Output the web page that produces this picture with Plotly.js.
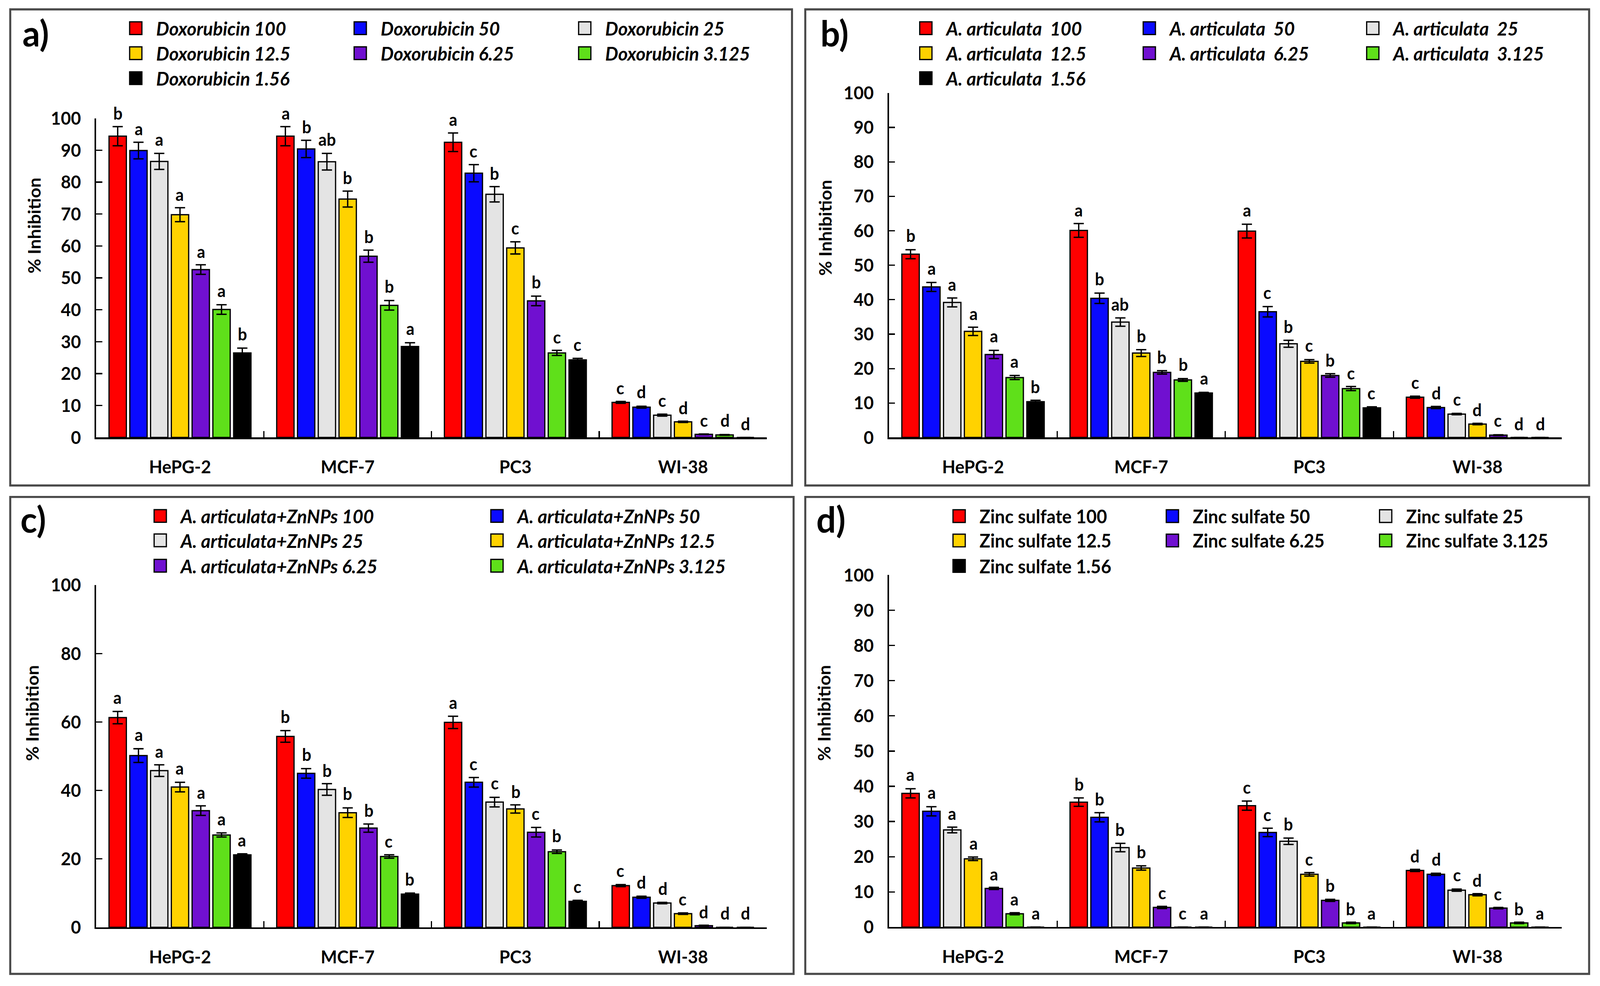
<!DOCTYPE html>
<html><head><meta charset="utf-8">
<script src="https://cdn.plot.ly/plotly-3.0.1.min.js"></script>
<style>
html,body{margin:0;padding:0;background:#fff}
#wrap{position:relative;overflow:hidden}
#chart{position:absolute;left:0;top:0;width:1568px;height:933px;transform-origin:0 0}
</style>
</head><body><div id="wrap"><div id="chart"></div></div>
<script>
// ---------------- data ----------------
const cellLines = ['HePG-2', 'MCF-7', 'PC3', 'WI-38'];
const concentrations = ['100', '50', '25', '12.5', '6.25', '3.125', '1.56'];
const seriesColors = ['#ff0000', '#0a0aff', '#e4e4e4', '#ffd200', '#7010d0', '#5fe01a', '#000000'];

// a) Doxorubicin  (rows = concentration, columns = cell line)
const doxMeans = [
  [94.4, 94.4, 92.5, 11.0],
  [89.9, 90.4, 82.8, 9.5],
  [86.5, 86.4, 76.2, 7.0],
  [69.8, 74.7, 59.4, 4.9],
  [52.6, 56.8, 42.8, 1.0],
  [40.1, 41.4, 26.5, 0.8],
  [26.5, 28.5, 24.3, 0.0]
];
const doxErrors = [
  [3.0, 3.0, 2.9, 0.3],
  [2.6, 2.7, 2.7, 0.3],
  [2.5, 2.6, 2.4, 0.3],
  [2.2, 2.5, 1.9, 0.2],
  [1.5, 1.9, 1.5, 0.1],
  [1.5, 1.5, 0.8, 0.1],
  [1.5, 1.2, 0.5, 0.0]
];
const doxLetters = [
  ['b', 'a', 'a', 'c'],
  ['a', 'b', 'c', 'd'],
  ['a', 'ab', 'b', 'c'],
  ['a', 'b', 'c', 'd'],
  ['a', 'b', 'b', 'c'],
  ['a', 'b', 'c', 'd'],
  ['b', 'a', 'c', 'd']
];

// b) A. articulata
const artMeans = [
  [53.2, 60.1, 59.9, 11.7],
  [43.7, 40.4, 36.5, 8.7],
  [39.2, 33.5, 27.2, 6.8],
  [30.8, 24.5, 22.1, 3.9],
  [24.1, 18.9, 18.0, 0.7],
  [17.4, 16.7, 14.2, 0.0],
  [10.4, 12.9, 8.6, 0.0]
];
const artErrors = [
  [1.3, 2.0, 2.0, 0.3],
  [1.3, 1.5, 1.5, 0.3],
  [1.3, 1.2, 1.0, 0.2],
  [1.2, 1.0, 0.5, 0.2],
  [1.2, 0.5, 0.5, 0.1],
  [0.6, 0.4, 0.6, 0.0],
  [0.4, 0.2, 0.3, 0.0]
];
const artLetters = [
  ['b', 'a', 'a', 'c'],
  ['a', 'b', 'c', 'd'],
  ['a', 'ab', 'b', 'c'],
  ['a', 'b', 'c', 'd'],
  ['a', 'b', 'b', 'c'],
  ['a', 'b', 'c', 'd'],
  ['b', 'a', 'c', 'd']
];

// c) A. articulata + ZnNPs
const znMeans = [
  [61.3, 55.8, 59.9, 12.2],
  [50.2, 45.0, 42.4, 8.8],
  [45.8, 40.3, 36.6, 7.1],
  [41.0, 33.5, 34.6, 4.0],
  [34.1, 29.0, 27.8, 0.5],
  [27.0, 20.7, 22.1, 0.0],
  [21.2, 9.7, 7.6, 0.0]
];
const znErrors = [
  [1.8, 1.7, 1.8, 0.3],
  [2.0, 1.4, 1.4, 0.3],
  [1.7, 1.7, 1.4, 0.2],
  [1.4, 1.4, 1.2, 0.2],
  [1.4, 1.2, 1.4, 0.1],
  [0.6, 0.5, 0.5, 0.0],
  [0.3, 0.3, 0.3, 0.0]
];
const znLetters = [
  ['a', 'b', 'a', 'c'],
  ['a', 'b', 'c', 'd'],
  ['a', 'b', 'c', 'd'],
  ['a', 'b', 'b', 'c'],
  ['a', 'b', 'c', 'd'],
  ['a', 'c', 'b', 'd'],
  ['a', 'b', 'c', 'd']
];

// d) Zinc sulfate
const zsMeans = [
  [38.0, 35.5, 34.5, 16.1],
  [32.9, 31.2, 26.9, 15.0],
  [27.6, 22.6, 24.4, 10.5],
  [19.4, 16.8, 15.0, 9.2],
  [11.0, 5.6, 7.6, 5.4],
  [3.8, 0.0, 1.2, 1.2],
  [0.0, 0.0, 0.0, 0.0]
];
const zsErrors = [
  [1.3, 1.2, 1.3, 0.3],
  [1.3, 1.3, 1.2, 0.3],
  [0.8, 1.2, 0.9, 0.3],
  [0.5, 0.6, 0.5, 0.3],
  [0.3, 0.3, 0.3, 0.2],
  [0.3, 0.0, 0.2, 0.2],
  [0.0, 0.0, 0.0, 0.0]
];
const zsLetters = [
  ['a', 'b', 'c', 'd'],
  ['a', 'b', 'c', 'd'],
  ['a', 'b', 'b', 'c'],
  ['a', 'b', 'c', 'd'],
  ['a', 'c', 'b', 'c'],
  ['a', 'c', 'b', 'b'],
  ['a', 'a', 'a', 'a']
];

const panelLabels = ['a)', 'b)', 'c)', 'd)'];
const seriesPrefixes = ['Doxorubicin ', 'A. articulata\u00a0 ', 'A. articulata+ZnNPs ', 'Zinc sulfate '];
const yTitle = '% Inhibition';

// ---------------- layout geometry ----------------
const FONT = 'Lato, "Open Sans", "DejaVu Sans", sans-serif';
const BARGAP = 0.133, BARGROUPGAP = 0.165;

const panels = [
  {means: doxMeans, errs: doxErrors, letters: doxLetters, ax: '', xdom: [0.0601, 0.4793], ydom: [0.5563, 0.8800], dtick: 10,
   cols: 3, legX: 0.0721, entry: 175, rowsY: [0.9711, 0.9457, 0.9204], italic: true, legendLast: true, legSize: 18,
   frame: [0.0064, 0.4950, 0.5076, 0.9905], lab: [0.0128, 0.9670], yt: [0.0209, 0.7717]},
  {means: artMeans, errs: artErrors, letters: artLetters, ax: '2', xdom: [0.5556, 0.9760], ydom: [0.5563, 0.9057], dtick: 10,
   cols: 3, legX: 0.5659, entry: 174, rowsY: [0.9711, 0.9457, 0.9204], italic: true, legendLast: true, legSize: 18,
   frame: [0.5033, 0.9932, 0.5076, 0.9905], lab: [0.5112, 0.9670], yt: [0.5159, 0.7696]},
  {means: znMeans, errs: znErrors, letters: znLetters, ax: '3', xdom: [0.0601, 0.4793], ydom: [0.0595, 0.4065], dtick: 20,
   cols: 2, legX: 0.0874, entry: 285, rowsY: [0.4764, 0.4517, 0.4259], italic: true, legendLast: false, legSize: 18,
   frame: [0.0064, 0.4960, 0.0123, 0.4960], lab: [0.0112, 0.4745], yt: [0.0198, 0.2765]},
  {means: zsMeans, errs: zsErrors, letters: zsLetters, ax: '4', xdom: [0.5556, 0.9760], ydom: [0.0597, 0.4168], dtick: 10,
   cols: 3, legX: 0.5867, entry: 164, rowsY: [0.4764, 0.4517, 0.4259], italic: false, legendLast: true, legSize: 17.5,
   frame: [0.5033, 0.9932, 0.0123, 0.4960], lab: [0.5092, 0.4745], yt: [0.5153, 0.2776]}
];

const traces = [];
const annotations = [];
const shapes = [];
const layout = {
  width: 1568, height: 933,
  margin: {l: 0, r: 0, t: 0, b: 0},
  paper_bgcolor: '#ffffff', plot_bgcolor: 'rgba(0,0,0,0)',
  barmode: 'group', bargap: BARGAP, bargroupgap: BARGROUPGAP,
  font: {family: FONT, color: '#000'},
  showlegend: true
};

let legendCount = 0;
const slot = (1 - BARGAP) / concentrations.length;

panels.forEach((p, pi) => {
  const xa = 'x' + p.ax, ya = 'y' + p.ax;
  const legendIds = [];
  for (let r = 0; r < p.rowsY.length; r++) {
    legendCount++;
    const id = legendCount === 1 ? 'legend' : 'legend' + legendCount;
    legendIds.push(id);
    layout[id] = {
      orientation: 'h', x: p.legX, y: p.rowsY[r], xanchor: 'left', yanchor: 'middle',
      xref: 'paper', yref: 'paper', entrywidth: p.entry, entrywidthmode: 'pixels',
      bgcolor: 'rgba(0,0,0,0)', borderwidth: 0, traceorder: 'normal', tracegroupgap: 0,
      itemclick: false, itemdoubleclick: false,
      font: {family: FONT, size: p.legSize, style: p.italic ? 'italic' : 'normal', weight: 'bold', color: '#000'}
    };
  }
  concentrations.forEach((c, si) => {
    const show = si < 6 || p.legendLast;
    traces.push({
      type: 'bar',
      name: seriesPrefixes[pi] + c,
      x: cellLines, y: p.means[si],
      xaxis: xa, yaxis: ya,
      marker: {color: seriesColors[si], line: {color: '#000', width: 1.2}},
      error_y: {type: 'data', array: p.errs[si], visible: true, color: '#000', thickness: 1.3, width: 5},
      showlegend: show,
      legend: legendIds[Math.floor(si / p.cols)] || legendIds[legendIds.length - 1],
      hoverinfo: 'skip'
    });
    cellLines.forEach((cl, ci) => {
      annotations.push({
        xref: xa, yref: ya,
        x: ci + (si - 3) * slot, y: p.means[si][ci] + p.errs[si][ci],
        text: p.letters[si][ci], showarrow: false,
        xanchor: 'center', yanchor: 'bottom', yshift: 2,
        font: {family: FONT, size: 16, weight: 'bold', color: '#000'}
      });
    });
  });

  layout['xaxis' + p.ax] = {
    domain: p.xdom, anchor: ya, type: 'category',
    categoryorder: 'array', categoryarray: cellLines,
    showline: true, linecolor: '#000', linewidth: 1.5,
    ticks: 'inside', tickson: 'boundaries', ticklen: 6, tickwidth: 1.2, tickcolor: '#000',
    showgrid: false, zeroline: false, fixedrange: true, tickangle: 0,
    ticklabelstandoff: 12,
    tickfont: {family: FONT, size: 17, weight: 'bold', color: '#000'}
  };
  layout['yaxis' + p.ax] = {
    domain: p.ydom, anchor: xa, range: [0, 100], dtick: p.dtick, tick0: 0,
    showline: true, linecolor: '#000', linewidth: 1.5,
    ticks: 'inside', ticklen: 6, tickwidth: 1.2, tickcolor: '#000',
    showgrid: false, zeroline: false, fixedrange: true,
    ticklabelstandoff: 10,
    tickfont: {family: FONT, size: 17, weight: 'bold', color: '#000'}
  };

  shapes.push({type: 'rect', xref: 'paper', yref: 'paper',
    x0: p.frame[0], x1: p.frame[1], y0: p.frame[2], y1: p.frame[3],
    line: {color: '#4a4a4a', width: 2}, fillcolor: 'rgba(0,0,0,0)', layer: 'below'});
  annotations.push({xref: 'paper', yref: 'paper', x: p.lab[0], y: p.lab[1],
    xanchor: 'left', yanchor: 'middle', showarrow: false, text: panelLabels[pi],
    font: {family: FONT, size: 34, weight: 'bold', color: '#000'}});
  annotations.push({xref: 'paper', yref: 'paper', x: p.yt[0], y: p.yt[1],
    xanchor: 'center', yanchor: 'middle', showarrow: false, text: yTitle, textangle: -90,
    font: {family: FONT, size: 17, weight: 'bold', color: '#000'}});
});

layout.annotations = annotations;
layout.shapes = shapes;

// map the 1568x933 design (reference proportions) onto the whole window
const vw = window.innerWidth || document.documentElement.clientWidth || 4242;
const vh = window.innerHeight || document.documentElement.clientHeight || 2523;
const kx = vw / 1568, ky = vh / 933;
const wrap = document.getElementById('wrap');
wrap.style.width = vw + 'px';
wrap.style.height = vh + 'px';
document.getElementById('chart').style.transform = 'scale(' + kx + ',' + ky + ')';

Plotly.newPlot('chart', traces, layout, {displayModeBar: false, staticPlot: true});
</script>
</body></html>
